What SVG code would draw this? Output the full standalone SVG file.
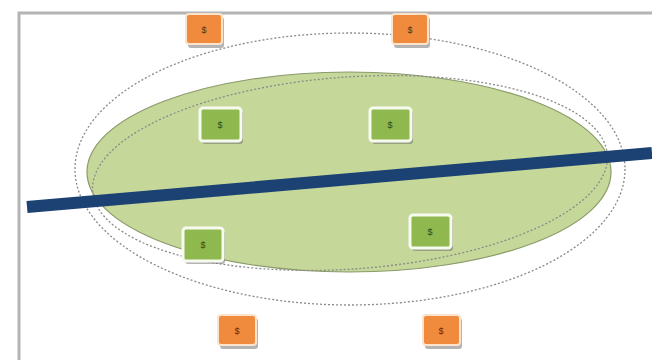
<svg xmlns="http://www.w3.org/2000/svg" width="652" height="360" viewBox="0 0 652 360">
<defs>
<style>
.frame{fill:none;stroke:#b4b4b4;stroke-width:3}
.dash{fill:none;stroke:#8a8a8a;stroke-width:1.3;stroke-dasharray:2 2}
.ob{fill:#f08a3c;stroke:#fbe3cc;stroke-width:2}
.gb{fill:#8fb84e;stroke:#f7faef;stroke-width:3}
.sh{fill:#6a6a6a;opacity:0.5}
.t{font-family:"Liberation Sans",Arial,sans-serif;font-size:9px;text-anchor:middle;fill:#5a3010}
.tg{font-family:"Liberation Sans",Arial,sans-serif;font-size:9px;text-anchor:middle;fill:#2f4a10}
</style>
</defs>
<rect width="652" height="360" fill="#ffffff"/>
<path class="frame" d="M19,362 V13 H652"/>
<g id="region">
<ellipse cx="350" cy="169" rx="275" ry="136" class="dash"/>
<ellipse cx="349" cy="172" rx="262" ry="100" fill="#c5d89a" stroke="#8a9a6a" stroke-width="1.2"/>
<ellipse cx="350" cy="173" rx="258" ry="96" class="dash" transform="rotate(-4 350 173)"/>
</g>
<g id="connectors">
<line x1="27" y1="207" x2="652" y2="153" stroke="#1c4273" stroke-width="12"/>
</g>
<g id="o1"><rect x="188" y="17" width="36" height="31" rx="3" class="sh"/><rect x="186" y="14" width="36" height="30" rx="3" class="ob"/><text x="204" y="33" class="t">$</text></g>
<g id="o2"><rect x="394" y="17" width="36" height="31" rx="3" class="sh"/><rect x="392" y="14" width="36" height="30" rx="3" class="ob"/><text x="410" y="33" class="t">$</text></g>
<g id="o3"><rect x="220" y="318" width="38" height="31" rx="3" class="sh"/><rect x="218" y="315" width="38" height="30" rx="3" class="ob"/><text x="237" y="334" class="t">$</text></g>
<g id="o4"><rect x="425" y="318" width="37" height="31" rx="3" class="sh"/><rect x="423" y="315" width="37" height="30" rx="3" class="ob"/><text x="441" y="334" class="t">$</text></g>
<g id="g1"><rect x="202" y="111" width="41" height="33" rx="3" class="sh"/><rect x="200" y="108" width="41" height="33" rx="3" class="gb"/><text x="220" y="128" class="tg">$</text></g>
<g id="g2"><rect x="372" y="111" width="41" height="33" rx="3" class="sh"/><rect x="370" y="108" width="41" height="33" rx="3" class="gb"/><text x="390" y="128" class="tg">$</text></g>
<g id="g3"><rect x="185" y="231" width="40" height="33" rx="3" class="sh"/><rect x="183" y="228" width="40" height="33" rx="3" class="gb"/><text x="203" y="248" class="tg">$</text></g>
<g id="g4"><rect x="412" y="218" width="41" height="33" rx="3" class="sh"/><rect x="410" y="215" width="41" height="33" rx="3" class="gb"/><text x="430" y="235" class="tg">$</text></g>
</svg>
